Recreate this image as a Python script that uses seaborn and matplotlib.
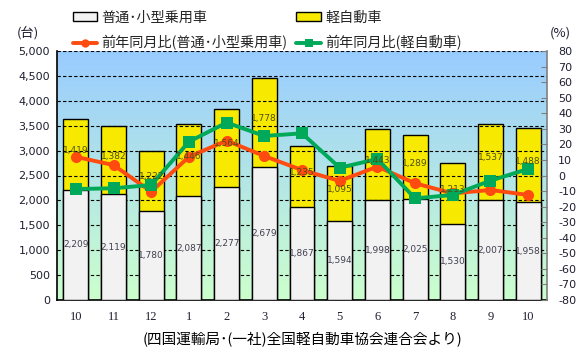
import numpy as np
import pandas as pd
import matplotlib
matplotlib.use("Agg")
import matplotlib.pyplot as plt
from matplotlib.patches import Patch
from matplotlib.lines import Line2D
from matplotlib.ticker import FuncFormatter, MultipleLocator
import seaborn as sns

# =========================================================
# DATOS
# =========================================================
meses = ["10", "11", "12", "1", "2", "3", "4", "5", "6", "7", "8", "9", "10"]
futsu = [2209, 2119, 1780, 2087, 2277, 2679, 1867, 1594, 1998, 2025, 1530, 2007, 1958]
kei = [1419, 1382, 1222, 1446, 1564, 1778, 1235, 1095, 1443, 1289, 1213, 1537, 1488]
yoy_futsu = [12, 6.7, -10.4, 12, 22.4, 12.5, 3.5, -3.5, 5.7, -5, -11.5, -9.3, -12.5]
yoy_kei = [-8.7, -8.2, -6.1, 21.7, 34, 25.4, 27.1, 5, 10.6, -14.7, -12.5, -3.3, 4.2]

lbl_futsu = "普通･小型乗用車"
lbl_kei = "軽自動車"
lbl_yoy_futsu = "前年同月比(普通･小型乗用車)"
lbl_yoy_kei = "前年同月比(軽自動車)"
fuente = "(四国運輸局･(一社)全国軽自動車協会連合会より)"

df = pd.DataFrame({
    "idx": range(len(meses)),
    "futsu": futsu,
    "kei": kei,
    "total": np.array(futsu) + np.array(kei),
    "yoy_futsu": yoy_futsu,
    "yoy_kei": yoy_kei,
})

# =========================================================
# ESTILO
# =========================================================
sns.set_style("white")
plt.rcParams["font.family"] = ["Noto Sans CJK JP", "DejaVu Sans"]
plt.rcParams["axes.unicode_minus"] = False

AMARILLO = "#F7EA00"
BLANCO = "#F2F2F2"
ROJO = "#FF4A10"
VERDE = "#00A859"
TXT = "#1E1E30"

fig = plt.figure(figsize=(5.84, 3.6), dpi=100)
ax = fig.add_axes([57 / 584, 60 / 360, 490 / 584, 249 / 360])

# fondo degradado azul -> verde
top = np.array([0x99, 0xCC, 0xFF]) / 255
bot = np.array([0xCC, 0xFF, 0xCC]) / 255
t = np.linspace(0, 1, 256)[:, None]
grad = (top * (1 - t) + bot * t)[:, None, :]
ax.imshow(grad, extent=[0, 1, 0, 1], transform=ax.transAxes, aspect="auto",
          interpolation="bilinear", zorder=0)

# =========================================================
# BARRAS APILADAS
# =========================================================
sns.barplot(data=df, x="idx", y="total", color=AMARILLO, saturation=1,
            edgecolor="black", linewidth=1, width=0.66, ax=ax, zorder=2)
sns.barplot(data=df, x="idx", y="futsu", color=BLANCO, saturation=1,
            edgecolor="black", linewidth=1, width=0.66, ax=ax, zorder=3)

ax.set_xlim(-0.5, len(meses) - 0.5)
ax.set_ylim(0, 5000)
ax.yaxis.set_major_locator(MultipleLocator(500))
ax.yaxis.set_major_formatter(FuncFormatter(lambda v, p: f"{int(v):,}"))
ax.grid(axis="y", color="black", linestyle=(0, (3, 2)), linewidth=0.8, zorder=1)
ax.set_axisbelow(False)
for gl in ax.get_ygridlines():
    gl.set_zorder(1)

ax.set_xticks(range(len(meses)))
ax.set_xticklabels(meses, family="Liberation Serif", fontsize=9, color=TXT)
ax.set_xticks(np.arange(-0.5, len(meses), 1), minor=True)
ax.tick_params(axis="x", which="major", length=0, pad=8)
ax.tick_params(axis="x", which="minor", direction="in", length=5, width=1, color="black")
ax.tick_params(axis="y", length=0, labelsize=8, labelcolor=TXT, pad=5)
for lab in ax.get_yticklabels():
    lab.set_family("DejaVu Sans")
ax.set_xlabel("")
ax.set_ylabel("")

for s in ["left", "bottom"]:
    ax.spines[s].set_color("black")
    ax.spines[s].set_linewidth(1.2)
ax.spines["top"].set_visible(False)
ax.spines["right"].set_visible(False)

# =========================================================
# LÍNEAS (EJE DERECHO)
# =========================================================
ax2 = ax.twinx()
sns.lineplot(data=df, x="idx", y="yoy_futsu", color=ROJO, marker="o", markersize=8,
             markeredgewidth=0, linewidth=2.8, ax=ax2, zorder=4)
sns.lineplot(data=df, x="idx", y="yoy_kei", color=VERDE, marker="s", markersize=8,
             markeredgewidth=0, linewidth=2.8, ax=ax2, zorder=4)
ax2.set_ylim(-80, 80)
ax2.yaxis.set_major_locator(MultipleLocator(10))
ax2.tick_params(axis="y", direction="in", length=4, color="#808080", labelsize=8,
                labelcolor=TXT, pad=8)
for lab in ax2.get_yticklabels():
    lab.set_family("DejaVu Sans")
ax2.set_ylabel("")
ax2.set_xlabel("")
for s in ["top", "left", "bottom"]:
    ax2.spines[s].set_visible(False)
ax2.spines["right"].set_color("#808080")
ax2.spines["right"].set_linewidth(1.2)

# etiquetas de valores (encima de las líneas)
for i in range(len(meses)):
    ax2.text(i, futsu[i] / 2, f"{futsu[i]:,}", transform=ax.transData,
             ha="center", va="center", fontsize=6.5, color="#404050",
             family="DejaVu Sans", zorder=6)
    ax2.text(i, futsu[i] + kei[i] / 2 + 80, f"{kei[i]:,}", transform=ax.transData,
             ha="center", va="center", fontsize=6.5, color="#505010",
             family="DejaVu Sans", zorder=6)

# =========================================================
# LEYENDA Y TEXTOS
# =========================================================
handles = [
    Patch(facecolor=BLANCO, edgecolor="black", linewidth=1),
    Line2D([], [], color=ROJO, marker="o", markersize=6, linewidth=2.8, markeredgewidth=0),
    Patch(facecolor=AMARILLO, edgecolor="black", linewidth=1),
    Line2D([], [], color=VERDE, marker="s", markersize=6, linewidth=2.8, markeredgewidth=0),
]
labels = [lbl_futsu, lbl_yoy_futsu, lbl_kei, lbl_yoy_kei]
fig.legend(handles, labels, ncol=2, loc="upper left", bbox_to_anchor=(62 / 584, 1.0),
           frameon=False, fontsize=10.2, handlelength=1.75, handleheight=0.6,
           handletextpad=0.3, columnspacing=0.6, labelspacing=0.75, borderpad=0.25)

fig.text(28 / 584, 1 - 33 / 360, "(台)", ha="center", va="center", fontsize=9.5, color=TXT)
fig.text(560 / 584, 1 - 33 / 360, "(%)", ha="center", va="center", fontsize=9.5, color=TXT)
fig.text(302 / 584, 1 - 339 / 360, fuente, ha="center", va="center", fontsize=10.5, color="black")

fig.savefig("out.png", dpi=100)
